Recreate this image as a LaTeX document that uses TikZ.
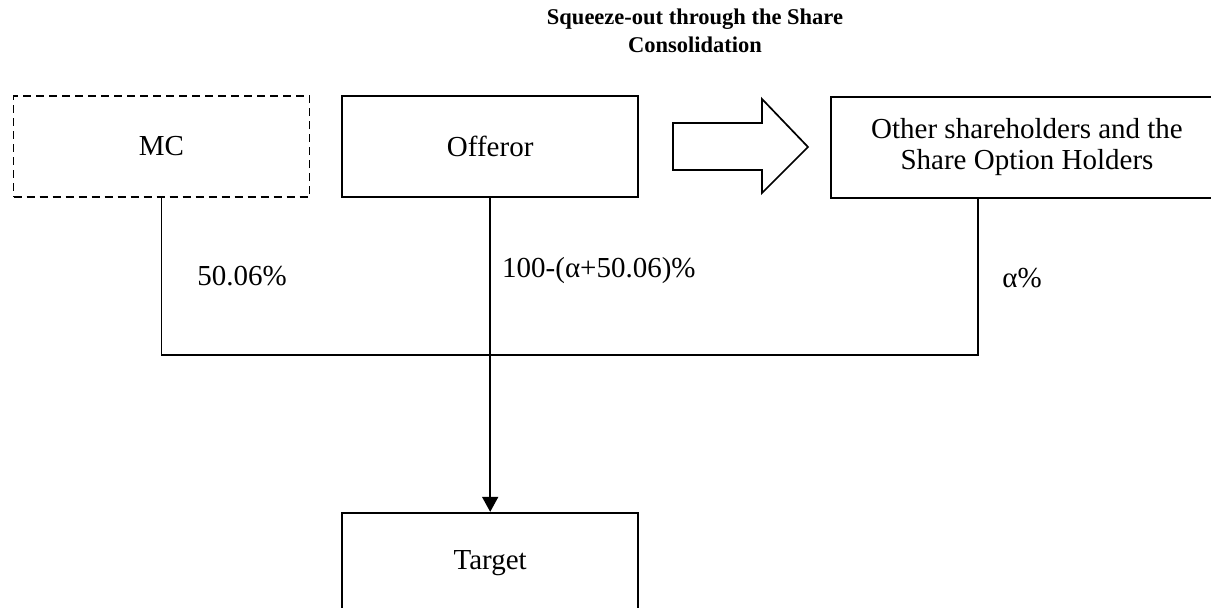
\documentclass[tikz,border=0pt]{standalone}
\usepackage{fontspec}
\setmainfont{Liberation Serif}
\usetikzlibrary{arrows.meta,positioning}
\tikzset{
  holder/.style={draw,line width=1.7pt,minimum width=296pt,minimum height=101pt,
    align=center,inner sep=0pt,font=\fontsize{29}{31}\selectfont},
  stake/.style={inner sep=0pt,font=\fontsize{29}{31}\selectfont},
  link/.style={line width=1.7pt},
}
\begin{document}
\begin{tikzpicture}[x=1pt,y=-1pt]
\useasboundingbox (0,0) rectangle (1211,608);
\clip (0,0) rectangle (1211,608);
\node[align=center,font=\bfseries\fontsize{22.5}{28}\selectfont] (title) at (695,31)
  {Squeeze-out through the Share\\Consolidation};
\node[holder,dash pattern=on 8pt off 5pt] (mc) at (161.5,146.5) {MC};
\node[holder,right=31pt of mc] (offeror) {Offeror};
\node[holder,minimum width=392pt] (others) at (1027,147.5)
  {Other shareholders and the\\Share Option Holders};
\node[holder,below=314pt of offeror] (target) {Target};
\draw[link] (673,123) -- (762,123) -- (762,99) -- (808,147) -- (762,193)
  -- (762,170) -- (673,170) -- cycle;
\coordinate (bar) at (0,355);
\draw[link] (mc.south) -- (mc.south |- bar) -- ([xshift=-49pt]others.south |- bar)
  -- ([xshift=-49pt]others.south);
\draw[link,-{Triangle[width=16pt,length=15pt]}] (offeror.south) -- (target.north);
\node[stake] (mcshare) at (242,276) {50.06\%};
\node[stake,anchor=west] (offshare) at (502,271) {100-(α+50.06)\%};
\node[stake] (othshare) at (1022,278) {α\%};
\end{tikzpicture}
\end{document}
